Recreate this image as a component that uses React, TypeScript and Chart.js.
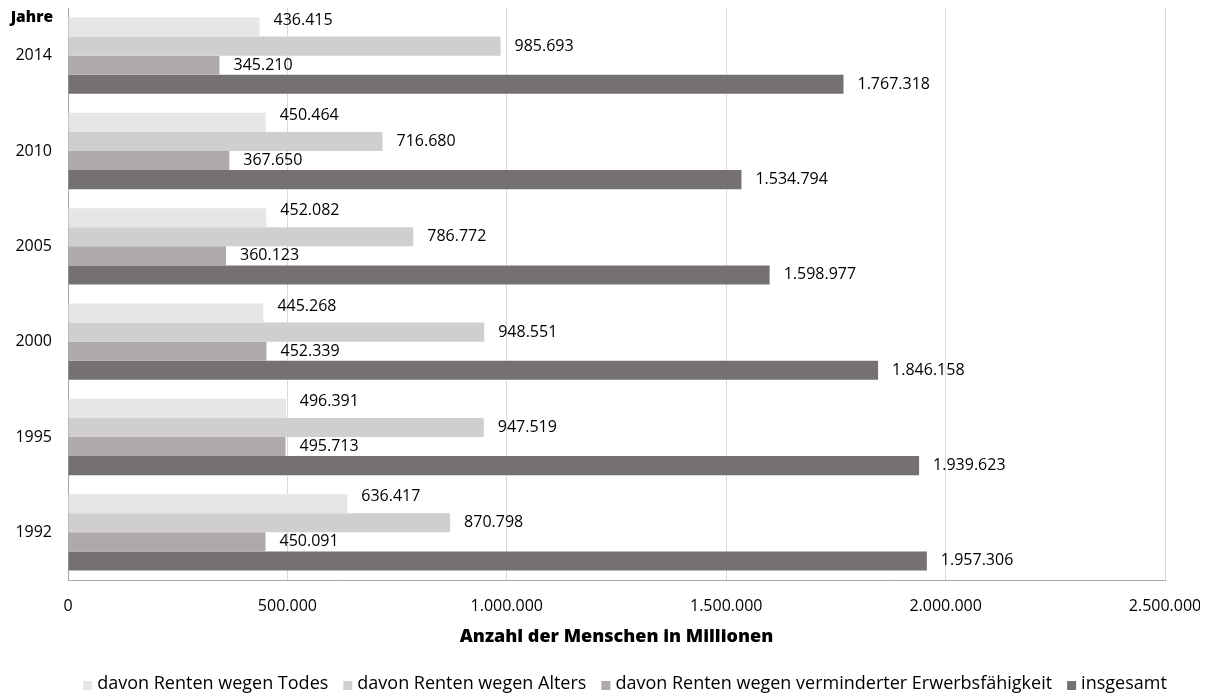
import React, { useEffect, useRef } from 'react';
import { Chart, registerables } from 'chart.js';

Chart.register(...registerables);

const years = ['2014', '2010', '2005', '2000', '1995', '1992'];
const seriesNames = [
  'davon Renten wegen Todes',
  'davon Renten wegen Alters',
  'davon Renten wegen verminderter Erwerbsfähigkeit',
  'insgesamt',
];
const todes = [436415, 450464, 452082, 445268, 496391, 636417];
const alters = [985693, 716680, 786772, 948551, 947519, 870798];
const erwerb = [345210, 367650, 360123, 452339, 495713, 450091];
const insgesamt = [1767318, 1534794, 1598977, 1846158, 1939623, 1957306];
const seriesColors = ['#E7E6E6', '#D0CECE', '#AEAAAA', '#767171'];
const xMin = 0;
const xMax = 2500000;
const xStep = 500000;
const yHeader = 'Jahre';
const xAxisTitle = 'Anzahl der Menschen in Millionen';

const FONT = '"Open Sans", "Noto Sans", sans-serif';

function fmt(v: number): string {
  return String(Math.round(v)).replace(/\B(?=(\d{3})+(?!\d))/g, '.');
}

const labelYOffsets = [-7, 0, 0, 0];

const valueLabels = {
  id: 'valueLabels',
  afterDatasetsDraw(chart: any) {
    const ctx = chart.ctx;
    ctx.save();
    ctx.font = `16px ${FONT}`;
    ctx.fillStyle = '#000';
    ctx.textAlign = 'left';
    ctx.textBaseline = 'middle';
    chart.data.datasets.forEach((ds: any, di: number) => {
      const meta = chart.getDatasetMeta(di);
      meta.data.forEach((el: any, i: number) => {
        ctx.fillText(fmt(ds.data[i]), el.x + 14, el.y + labelYOffsets[di]);
      });
    });
    ctx.restore();
  },
};

const headerAndLegend = {
  id: 'headerAndLegend',
  afterDraw(chart: any) {
    const ctx = chart.ctx;
    const area = chart.chartArea;
    ctx.save();
    // "Jahre" header
    ctx.font = `800 15.5px ${FONT}`;
    ctx.fillStyle = '#000';
    ctx.textAlign = 'right';
    ctx.textBaseline = 'middle';
    ctx.fillText(yHeader, area.left - 15, area.top + 10);

    // legend
    ctx.font = `18px ${FONT}`;
    const box = 9;
    const boxGap = 5;
    const itemGap = 15;
    const items = chart.data.datasets.map((ds: any) => ({
      text: ds.label,
      color: ds.backgroundColor,
      w: ctx.measureText(ds.label).width,
    }));
    const total =
      items.reduce((s: number, it: any) => s + box + boxGap + it.w, 0) + itemGap * (items.length - 1);
    let x = 617 - total / 2;
    const yText = 676;
    ctx.textAlign = 'left';
    ctx.textBaseline = 'middle';
    items.forEach((it: any) => {
      ctx.fillStyle = it.color;
      ctx.fillRect(x, 673, box, box);
      ctx.fillStyle = '#000';
      ctx.fillText(it.text, x + box + boxGap, yText);
      x += box + boxGap + it.w + itemGap;
    });
    ctx.restore();
  },
};

export default function App() {
  const canvasRef = useRef<HTMLCanvasElement | null>(null);

  useEffect(() => {
    if (!canvasRef.current) return;
    const data = [todes, alters, erwerb, insgesamt];
    const chart = new Chart(canvasRef.current, {
      type: 'bar',
      data: {
        labels: years,
        datasets: data.map((d, i) => ({
          label: seriesNames[i],
          data: d,
          backgroundColor: seriesColors[i],
          borderWidth: 0,
          categoryPercentage: 0.8,
          barPercentage: 1.0,
        })),
      },
      options: {
        indexAxis: 'y',
        animation: false,
        responsive: true,
        maintainAspectRatio: false,
        layout: { padding: { top: 0, left: 0, right: 0, bottom: 0 } },
        plugins: {
          legend: { display: false },
          tooltip: { enabled: false },
        },
        scales: {
          x: {
            min: xMin,
            max: xMax,
            ticks: {
              stepSize: xStep,
              color: '#000',
              font: { family: FONT, size: 16 },
              padding: 17,
              callback: (v: any) => fmt(Number(v)),
            },
            grid: { color: '#D9D9D9', lineWidth: 1, drawTicks: false },
            border: { color: '#A6A6A6', width: 1 },
            title: {
              display: true,
              text: xAxisTitle,
              color: '#000',
              font: { family: FONT, size: 18, weight: '800' },
              padding: { top: 0, bottom: 49 },
            },
            afterFit: (s: any) => {
              s.height = 117;
              s.paddingRight = 35;
              s.paddingLeft = 0;
            },
          },
          y: {
            ticks: {
              color: '#000',
              font: { family: FONT, size: 16 },
              padding: 16,
            },
            grid: {
              drawTicks: false,
              offset: true,
              color: (c: any) => (c.index === 0 ? '#D9D9D9' : 'rgba(0,0,0,0)'),
            },
            border: { color: '#A6A6A6', width: 1 },
            afterFit: (s: any) => {
              s.width = 60;
              s.paddingTop = 0;
              s.paddingBottom = 0;
            },
          },
        },
      },
      plugins: [valueLabels, headerAndLegend],
    });
    return () => chart.destroy();
  }, []);

  return (
    <div style={{ position: 'fixed', left: 8, top: 8, width: 1192, height: 689 }}>
      <canvas ref={canvasRef} />
    </div>
  );
}
